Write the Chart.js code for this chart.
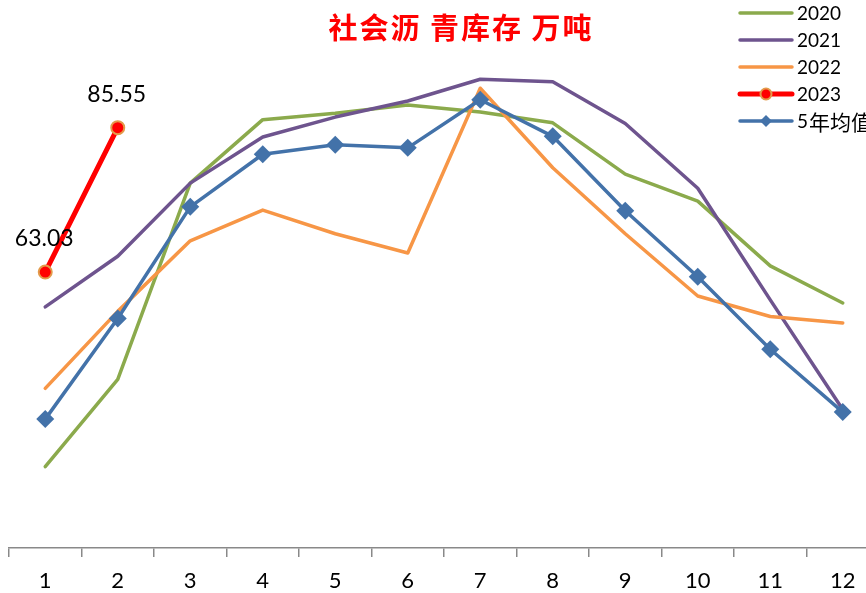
<!DOCTYPE html>
<html>
<head>
<meta charset="utf-8">
<script src="https://cdn.jsdelivr.net/npm/chart.js@4.4.0/dist/chart.umd.min.js"></script>
<style>
html,body{margin:0;padding:0;overflow:hidden;background:#fff;}
#wrap{width:900px;height:593px;position:relative;}
</style>
</head>
<body>
<div id="wrap"><canvas id="c" width="900" height="593"></canvas></div>
<script>
const months = ['1','2','3','4','5','6','7','8','9','10','11','12'];
const y2020 = [32.7, 46.3, 76.9, 86.8, 87.8, 89.1, 88.0, 86.3, 78.3, 74.1, 64.0, 58.2];
const y2021 = [57.6, 65.5, 76.9, 84.1, 87.2, 89.7, 93.1, 92.7, 86.2, 76.1, 58.7, 41.6];
const y2022 = [44.9, 56.9, 67.9, 72.7, 69.0, 66.0, 91.7, 79.3, 69.0, 59.3, 56.1, 55.1];
const y2023 = [63.03, 85.55];
const avg5 = [40.1, 55.8, 73.2, 81.4, 82.9, 82.4, 89.9, 84.2, 72.6, 62.3, 51.0, 41.2];
const seriesNames = ['2020', '2021', '2022', '2023', '5年均值'];
const titleText = '社会沥 青库存 万吨';

const C_GREEN = '#8BAA4C', C_PURPLE = '#6E548E', C_ORANGE = '#F79646', C_RED = '#FF0000', C_BLUE = '#4372A9';
const FONT = 'Lato, "Noto Sans", sans-serif';
const CJK = '"Noto Sans CJK SC", sans-serif';

const titlePlugin = {
  id: 'titleText',
  afterDraw(chart) {
    const ctx = chart.ctx;
    ctx.save();
    ctx.fillStyle = C_RED;
    ctx.font = 'bold 29px "Noto Sans CJK SC"';
    try { ctx.letterSpacing = '2px'; } catch (e) {}
    ctx.textAlign = 'center';
    ctx.textBaseline = 'middle';
    ctx.fillText(titleText, 461, 28);
    ctx.restore();
  }
};

const legendPlugin = {
  id: 'customLegend',
  afterDraw(chart) {
    const ctx = chart.ctx;
    const items = [
      {c: C_GREEN, w: 3.5, m: null},
      {c: C_PURPLE, w: 3.5, m: null},
      {c: C_ORANGE, w: 3.5, m: null},
      {c: C_RED, w: 5, m: 'circle'},
      {c: C_BLUE, w: 3.5, m: 'diamond'}
    ];
    ctx.save();
    items.forEach((it, i) => {
      const y = 13 + i * 27;
      ctx.strokeStyle = it.c;
      ctx.lineWidth = it.w;
      ctx.lineCap = 'round';
      ctx.beginPath();
      ctx.moveTo(740, y);
      ctx.lineTo(792, y);
      ctx.stroke();
      if (it.m === 'circle') {
        ctx.beginPath();
        ctx.arc(766, y, 5.5, 0, Math.PI * 2);
        ctx.fillStyle = C_RED;
        ctx.fill();
        ctx.lineWidth = 2;
        ctx.strokeStyle = '#E39A4A';
        ctx.stroke();
      } else if (it.m === 'diamond') {
        ctx.beginPath();
        ctx.moveTo(766, y - 6);
        ctx.lineTo(772, y);
        ctx.lineTo(766, y + 6);
        ctx.lineTo(760, y);
        ctx.closePath();
        ctx.fillStyle = C_BLUE;
        ctx.fill();
      }
      ctx.fillStyle = '#000';
      ctx.textAlign = 'left';
      ctx.textBaseline = 'middle';
      const name = seriesNames[i];
      const ascii = name.match(/^[0-9A-Za-z.]*/)[0];
      const rest = name.slice(ascii.length);
      ctx.font = '19px ' + FONT;
      ctx.fillText(ascii, 797, y + 1);
      const w = ctx.measureText(ascii).width;
      if (rest) {
        ctx.font = '21px ' + CJK;
        ctx.fillText(rest, 797 + w + 1, y + 1);
      }
    });
    ctx.restore();
  }
};

const labelPlugin = {
  id: 'dataLabels2023',
  afterDatasetsDraw(chart) {
    const ctx = chart.ctx;
    const meta = chart.getDatasetMeta(3);
    ctx.save();
    ctx.fillStyle = '#000';
    ctx.font = '23px ' + FONT;
    ctx.textAlign = 'center';
    ctx.textBaseline = 'middle';
    meta.data.forEach((pt, i) => {
      ctx.fillText(y2023[i].toFixed(2), pt.x - 1, pt.y - 33);
    });
    ctx.restore();
  }
};

new Chart(document.getElementById('c'), {
  type: 'line',
  data: {
    labels: months,
    datasets: [
      {label: seriesNames[0], data: y2020, borderColor: C_GREEN, borderWidth: 3.5, pointRadius: 0, order: 4},
      {label: seriesNames[1], data: y2021, borderColor: C_PURPLE, borderWidth: 3.5, pointRadius: 0, order: 3},
      {label: seriesNames[2], data: y2022, borderColor: C_ORANGE, borderWidth: 3.5, pointRadius: 0, order: 2},
      {label: seriesNames[3], data: y2023, borderColor: C_RED, borderWidth: 5, pointRadius: 6.5,
        pointBackgroundColor: C_RED, pointBorderColor: '#E39A4A', pointBorderWidth: 2, order: 1},
      {label: seriesNames[4], data: avg5, borderColor: C_BLUE, borderWidth: 3.5, pointRadius: 9,
        pointStyle: 'rectRot', pointBackgroundColor: C_BLUE, pointBorderColor: C_BLUE, pointBorderWidth: 0, order: 0}
    ]
  },
  options: {
    responsive: false,
    animation: false,
    devicePixelRatio: 1,
    layout: {padding: {left: 9, right: 21, top: 35, bottom: 0}},
    plugins: {legend: {display: false}, title: {display: false}, tooltip: {enabled: false}},
    elements: {line: {tension: 0, borderJoinStyle: 'round', borderCapStyle: 'round'}},
    scales: {
      x: {
        offset: true,
        grid: {display: true, drawOnChartArea: false, drawTicks: true, tickLength: 9, color: '#898989', lineWidth: 1.5, offset: true},
        border: {display: true, color: '#898989', width: 1.5},
        ticks: {color: '#000', font: {family: FONT, size: 22}, padding: 11, maxRotation: 0, autoSkip: false},
        afterFit(scale) { scale.height = 45; }
      },
      y: {
        display: false,
        min: 20,
        max: 100
      }
    }
  },
  plugins: [titlePlugin, legendPlugin, labelPlugin]
});
</script>
</body>
</html>
